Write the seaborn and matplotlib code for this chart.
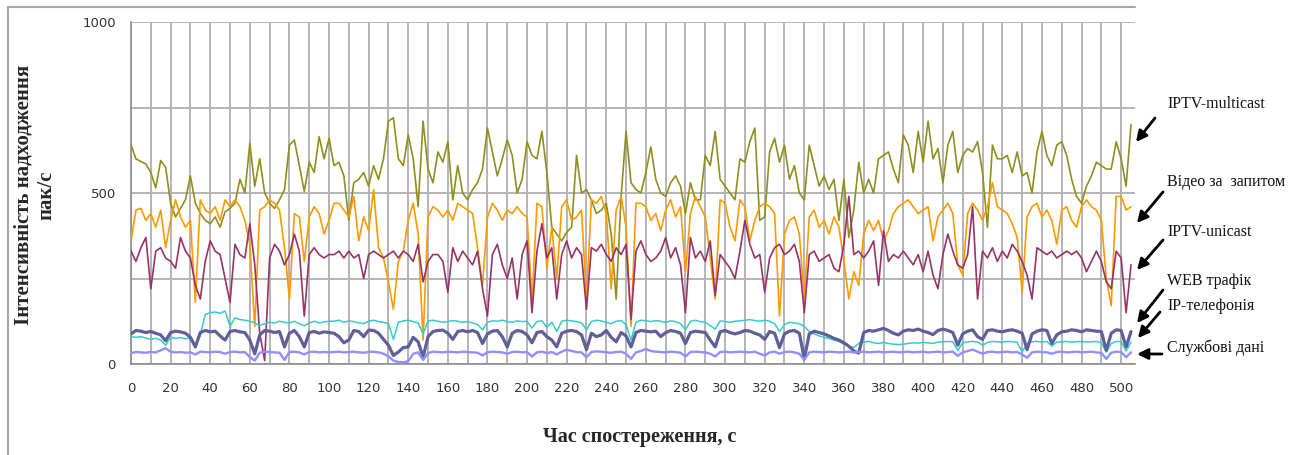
import numpy as np
import pandas as pd
import matplotlib
matplotlib.use('Agg')
import matplotlib.pyplot as plt
from matplotlib.lines import Line2D
import seaborn as sns

sns.set_style('white')
plt.rcParams['font.family'] = ['DejaVu Sans']

# sampling times, s
t = np.arange(0, 505.1, 2.5)

multicast = [640, 600, 592, 585, 560, 515, 595, 575, 470, 430, 455, 480, 550, 470, 440, 420, 410, 430, 400, 445,
             455, 470, 540, 500, 645, 520, 600, 500, 470, 455, 480, 510, 640, 655, 580, 505, 590, 560, 665, 600, 660,
             580, 590, 550, 420, 530, 540, 560, 520, 580, 540, 600, 710, 720, 600, 580, 670, 600, 460, 710, 570,
             530, 620, 590, 650, 480, 580, 500, 480, 510, 530, 570, 690, 620, 550, 600, 655, 610, 500, 540, 650,
             610, 600, 680, 560, 400, 380, 360, 385, 400, 610, 500, 510, 480, 440, 450, 470, 380, 190, 490, 680,
             530, 510, 500, 560, 635, 540, 500, 490, 530, 550, 520, 440, 530, 480, 480, 610, 580, 680, 540, 520, 500, 480,
             600, 590, 650, 690, 420, 430, 620, 660, 590, 640, 540, 580, 500, 480, 640, 580, 520, 550, 510, 540,
             420, 540, 370, 450, 590, 500, 540, 500, 600, 610, 620, 570, 530, 670, 640, 560, 680, 590, 710, 600, 630, 530,
             640, 680, 560, 610, 630, 620, 650, 560, 400, 640, 600, 600, 610, 560, 620, 550, 560, 500, 620, 680,
             610, 580, 640, 650, 610, 540, 490, 470, 520, 550, 590, 580, 570, 570, 650, 600, 520, 700]

video = [360, 450, 455, 420, 440, 400, 450, 340, 420, 480, 430, 400, 420, 180, 480, 450, 440, 460, 420, 480,
         460, 480, 460, 420, 350, 110, 450, 460, 480, 470, 450, 340, 190, 440, 430, 300, 430, 460, 440, 380, 420,
         470, 470, 450, 430, 490, 360, 430, 390, 510, 340, 310, 240, 160, 300, 330, 420, 470, 380, 70, 430,
         460, 450, 430, 450, 420, 470, 460, 450, 440, 340, 230, 430, 470, 450, 420, 450, 440, 460, 440, 430,
         180, 470, 460, 280, 400, 250, 460, 480, 420, 430, 450, 190, 480, 470, 490, 440, 220, 450, 490, 400,
         110, 470, 470, 460, 420, 440, 390, 450, 480, 430, 460, 270, 440, 490, 460, 430, 310, 190, 480, 470, 400, 360,
         480, 460, 360, 420, 460, 470, 460, 440, 140, 380, 420, 430, 380, 190, 430, 450, 400, 420, 380, 430,
         400, 300, 190, 270, 230, 380, 420, 390, 420, 360, 390, 440, 460, 470, 480, 460, 440, 450, 460, 360, 430, 450,
         470, 440, 290, 260, 440, 470, 450, 420, 460, 530, 460, 450, 440, 410, 370, 210, 430, 460, 470, 430,
         450, 420, 350, 450, 460, 420, 400, 460, 480, 460, 450, 420, 250, 170, 490, 490, 450, 460]

unicast = [330, 300, 340, 370, 220, 330, 340, 310, 300, 280, 370, 330, 310, 230, 190, 300, 360, 330, 320, 250,
           180, 350, 320, 310, 410, 290, 90, 10, 310, 350, 330, 290, 320, 380, 330, 140, 320, 340, 320, 310, 320,
           320, 330, 310, 330, 310, 320, 250, 320, 330, 320, 310, 320, 330, 310, 330, 320, 300, 350, 240, 300,
           320, 320, 300, 210, 340, 300, 330, 310, 290, 330, 220, 140, 320, 350, 290, 250, 310, 190, 320, 360,
           150, 330, 410, 310, 340, 190, 320, 360, 310, 340, 320, 160, 340, 330, 350, 320, 300, 340, 320, 350,
           130, 330, 360, 320, 300, 310, 330, 370, 310, 340, 290, 150, 370, 310, 330, 300, 360, 200, 320, 300, 280, 250,
           330, 420, 350, 310, 320, 210, 310, 340, 350, 320, 330, 350, 300, 150, 320, 330, 300, 310, 320, 280,
           270, 350, 490, 320, 330, 310, 330, 360, 230, 390, 300, 320, 310, 330, 310, 290, 320, 270, 330, 260, 220, 320,
           380, 330, 290, 280, 320, 460, 190, 330, 310, 340, 300, 330, 310, 350, 330, 300, 260, 190, 340, 330,
           320, 330, 310, 320, 330, 320, 330, 310, 270, 300, 330, 300, 240, 220, 330, 310, 150, 290]

web = [80, 78, 80, 76, 72, 75, 70, 55, 78, 75, 77, 74, 75, 55, 85, 145, 150, 152, 148, 155,
       110, 135, 130, 128, 125, 120, 112, 118, 122, 120, 125, 122, 120, 125, 118, 112, 120, 125, 120, 123, 125,
       125, 128, 122, 126, 124, 120, 118, 125, 128, 124, 122, 118, 72, 122, 126, 128, 124, 120, 88, 126,
       128, 125, 122, 124, 127, 125, 122, 124, 120, 116, 100, 122, 126, 125, 128, 124, 122, 126, 124, 125,
       105, 124, 126, 108, 122, 95, 125, 128, 126, 124, 120, 100, 124, 128, 126, 122, 118, 125, 127, 115,
       70, 122, 128, 126, 124, 127, 125, 122, 126, 124, 118, 100, 125, 128, 124, 122, 112, 102, 126, 124, 122, 125,
       126, 128, 130, 127, 125, 128, 125, 118, 95, 115, 122, 120, 118, 110, 95, 88, 82, 78, 75, 70,
       66, 58, 52, 48, 60, 64, 66, 62, 60, 63, 60, 58, 57, 58, 60, 62, 61, 63, 62, 60, 64, 65,
       66, 65, 40, 62, 65, 66, 64, 55, 63, 66, 65, 64, 66, 65, 63, 35, 60, 65, 66, 64,
       66, 52, 64, 65, 66, 64, 65, 66, 64, 65, 66, 62, 35, 60, 66, 65, 38, 64]

voip = [88, 98, 96, 92, 95, 90, 85, 68, 92, 96, 94, 90, 78, 50, 92, 98, 94, 96, 82, 70,
        95, 98, 94, 92, 70, 30, 85, 98, 96, 92, 95, 50, 90, 98, 80, 50, 92, 95, 90, 94, 92,
        90, 80, 62, 70, 98, 95, 80, 99, 98, 90, 72, 55, 25, 35, 48, 50, 78, 65, 20, 80,
        95, 98, 99, 90, 72, 95, 98, 94, 98, 92, 60, 88, 96, 98, 80, 50, 90, 98, 95, 85,
        62, 92, 95, 80, 70, 50, 90, 96, 98, 95, 85, 42, 90, 80, 85, 98, 78, 65, 92, 82,
        50, 92, 98, 96, 94, 96, 80, 92, 98, 95, 90, 60, 92, 96, 94, 92, 70, 50, 94, 98, 92, 88,
        92, 98, 96, 90, 85, 72, 95, 90, 48, 88, 96, 98, 90, 15, 88, 96, 92, 88, 82, 75,
        70, 62, 52, 38, 32, 92, 98, 96, 100, 104, 98, 90, 85, 96, 100, 98, 102, 96, 92, 86, 98, 102,
        98, 92, 55, 88, 96, 100, 80, 72, 98, 100, 96, 94, 98, 100, 96, 90, 42, 88, 96, 100,
        98, 60, 85, 94, 96, 100, 98, 94, 100, 98, 96, 95, 40, 90, 100, 98, 50, 95]

service = [32, 35, 34, 33, 35, 34, 40, 46, 36, 34, 35, 33, 34, 28, 36, 35, 34, 36, 35, 30,
           35, 36, 34, 35, 20, 10, 33, 36, 35, 34, 33, 12, 35, 36, 34, 28, 35, 36, 34, 35, 34,
           35, 36, 34, 35, 36, 34, 33, 35, 36, 34, 30, 22, 10, 6, 5, 8, 30, 34, 12, 32,
           36, 35, 34, 36, 35, 34, 36, 35, 34, 33, 25, 34, 36, 35, 34, 30, 35, 36, 34, 35,
           22, 34, 36, 32, 35, 28, 36, 42, 38, 35, 34, 20, 35, 37, 36, 34, 33, 35, 36, 30,
           15, 34, 38, 44, 38, 36, 35, 34, 36, 35, 33, 22, 35, 36, 35, 34, 30, 22, 35, 36, 34, 35,
           36, 35, 34, 36, 30, 25, 34, 36, 30, 35, 36, 34, 30, 12, 34, 36, 35, 34, 36, 35,
           34, 35, 36, 34, 35, 36, 34, 35, 36, 34, 35, 36, 34, 35, 36, 34, 35, 36, 34, 35, 36, 34,
           35, 36, 24, 34, 38, 42, 36, 30, 35, 36, 34, 35, 36, 34, 35, 28, 18, 34, 36, 35,
           34, 30, 35, 36, 34, 35, 36, 34, 35, 36, 34, 32, 15, 33, 36, 35, 20, 34]

names = ['IPTV-multicast', 'Відео за  запитом', 'IPTV-unicast', 'WEB трафік', 'IP-телефонія', 'Службові дані']
colors = ['#8f8f1f', '#ff9900', '#993366', '#33cccc', '#5f5f99', '#8f8fff']
widths = [1.2, 1.2, 1.2, 1.1, 2.3, 1.7]

df = pd.DataFrame({'t': t})
for n, v in zip(names, [multicast, video, unicast, web, voip, service]):
    df[n] = v
long = df.melt(id_vars='t', var_name='series', value_name='v')

W, H = 1299, 455
fig = plt.figure(figsize=(W / 100, H / 100), dpi=100)
ax = fig.add_axes([131 / W, 1 - 364 / H, (1135 - 131) / W, (364 - 22) / H])

sns.lineplot(data=long, x='t', y='v', hue='series', size='series',
             palette=dict(zip(names, colors)), sizes=dict(zip(names, widths)),
             estimator=None, legend=False, ax=ax, zorder=3)

ax.set_xlim(0, 507)
ax.set_ylim(0, 1000)
ax.set_xticks(range(0, 501, 20))
ax.set_xticks(range(10, 501, 20), minor=True)
ax.set_yticks([0, 500, 1000])
ax.set_yticks([250, 750], minor=True)
ax.grid(which='both', axis='both', color='#b4b4b4', lw=1.4, zorder=1)
ax.set_axisbelow(True)
ax.tick_params(axis='x', which='both', direction='out', length=5, width=1,
               color='#8c8c8c', pad=8, labelsize=9.5, labelcolor='#333333')
ax.tick_params(axis='y', which='major', direction='out', length=6, width=1,
               color='#8c8c8c', pad=5, labelsize=9.5, labelcolor='#333333')
ax.tick_params(axis='y', which='minor', length=0)
ax.set_xlabel('')
ax.set_ylabel('')
for s in ['top', 'right']:
    ax.spines[s].set_visible(False)
for s in ['left', 'bottom']:
    ax.spines[s].set_color('#8c8c8c')
    ax.spines[s].set_linewidth(1.2)


def fp(x, y):
    return (x / W, 1 - y / H)


serif = ['Liberation Serif', 'DejaVu Serif']
fig.text(*fp(35, 195), 'Інтенсивність надходження\nпак/с', rotation=90, ha='center', va='center',
         multialignment='center', family=serif, fontweight='bold', fontsize=15, linespacing=1.2)
fig.text(*fp(640, 437), 'Час спостереження, с', ha='center', va='center',
         family=serif, fontweight='bold', fontsize=14.5)

# series labels with arrows on the right
label_y = [104, 182, 232, 281, 306, 348]
arrows = [((1155, 118), (1136, 142)), ((1163, 192), (1137, 223)), ((1163, 240), (1137, 270)),
          ((1163, 290), (1137, 323)), ((1160, 312), (1138, 338)), ((1162, 354), (1137, 354))]
for n, ly, (tail, head) in zip(names, label_y, arrows):
    fig.text(*fp(1167, ly), n, ha='left', va='center', family=serif, fontsize=11.5, color='#111111')
    ax.annotate('', xy=fp(*head), xytext=fp(*tail), xycoords='figure fraction',
                textcoords='figure fraction',
                arrowprops=dict(arrowstyle='-|>', color='black', lw=2.0,
                                mutation_scale=16, shrinkA=0, shrinkB=0))

# partial outer frame
fig.add_artist(Line2D([8 / W, 1135 / W], [1 - 7 / H, 1 - 7 / H], color='#a8a8a8', lw=1.5,
                      transform=fig.transFigure))
fig.add_artist(Line2D([8 / W, 8 / W], [1 - 7 / H, 0], color='#a8a8a8', lw=1.5,
                      transform=fig.transFigure))

fig.savefig('out.png', dpi=100)
